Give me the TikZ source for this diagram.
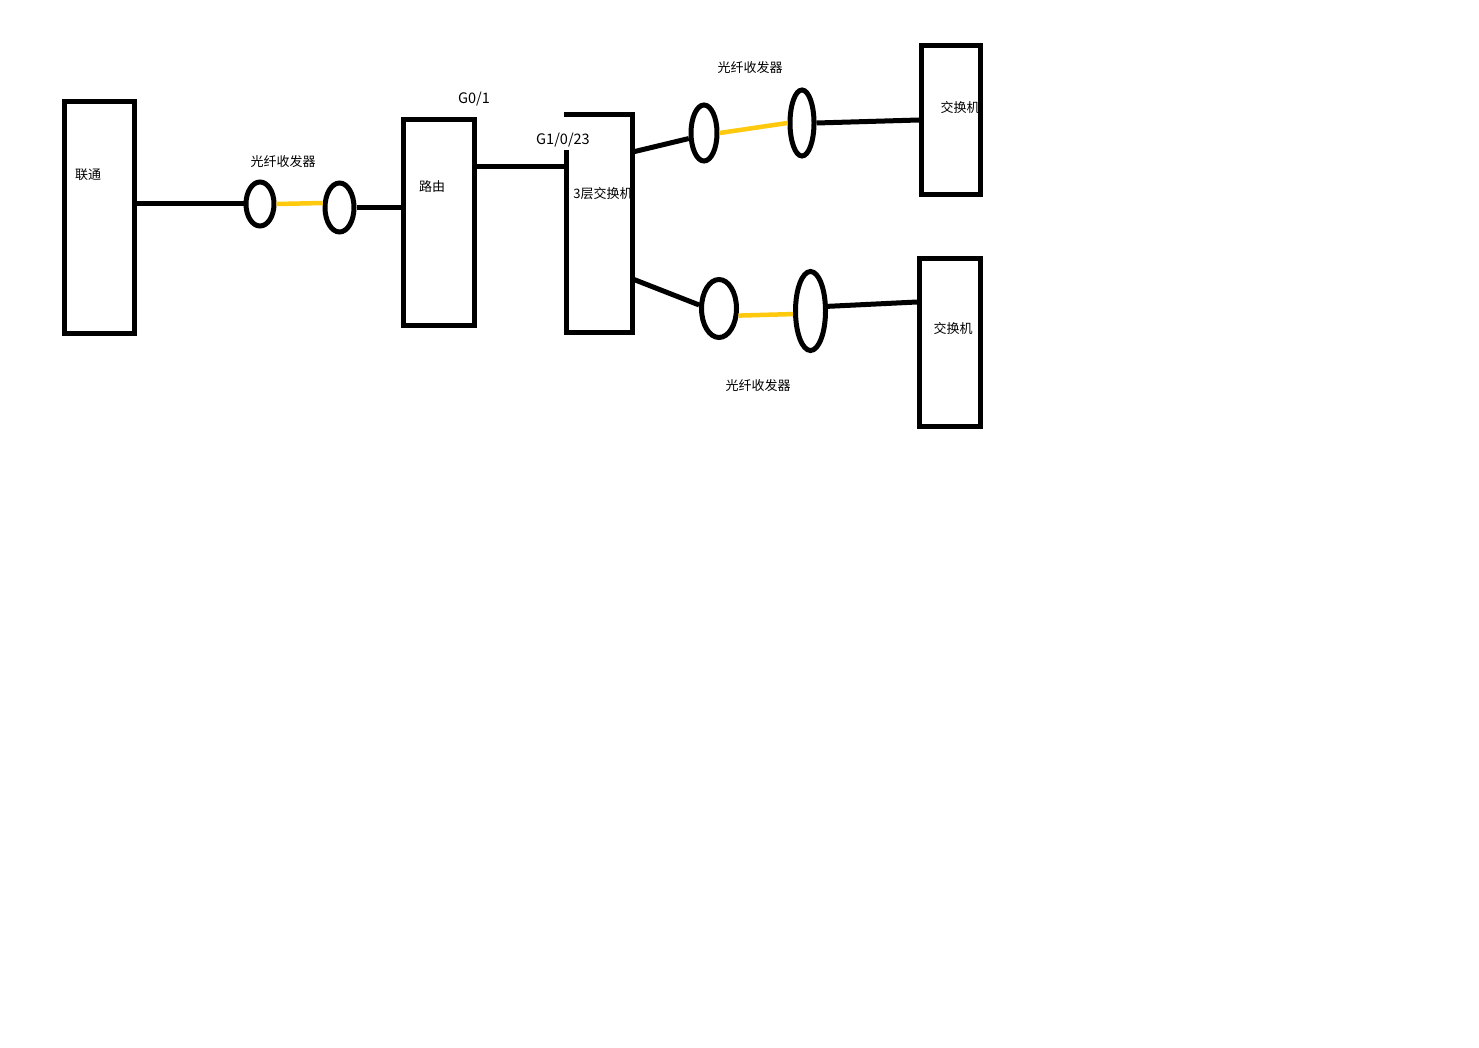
\documentclass[tikz,border=0pt]{standalone}
\usepackage{fontspec}
\setmainfont{Noto Sans CJK SC}
\usetikzlibrary{shapes.geometric}
\definecolor{fiber}{HTML}{FFC90E}
\tikzset{
  box/.style={rectangle, draw, line width=5pt, inner sep=0pt},
  xcvr/.style={ellipse, draw, line width=5pt, inner sep=0pt},
  wire/.style={line width=5pt},
  fib/.style={line width=4.5pt, draw=fiber},
  lbl/.style={inner sep=0pt, font=\fontsize{13}{15}\selectfont},
  port/.style={inner sep=0pt, font=\fontsize{14.5}{16}\selectfont}
}
\begin{document}
\begin{tikzpicture}[x=1pt,y=-1pt]
\useasboundingbox[fill=white] (0,0) rectangle (1479,1048);
% devices
\node[box, minimum width=70pt, minimum height=231pt] (lt) at (99.5,217.5) {};
\node[box, minimum width=71pt, minimum height=205pt] (rt) at (438.5,222.5) {};
\node[rectangle, inner sep=0pt, minimum width=66pt, minimum height=218pt] (l3) at (599.5,223.5) {};
\node[box, minimum width=59pt, minimum height=149pt] (sw1) at (951,120) {};
\node[box, minimum width=61pt, minimum height=168pt] (sw2) at (950,342.5) {};
% transceivers
\node[xcvr, minimum width=28pt, minimum height=44pt] (e1) at (260,204) {};
\node[xcvr, minimum width=29pt, minimum height=49pt] (e2) at (339.5,207.5) {};
\node[xcvr, minimum width=26pt, minimum height=56pt] (e3) at (704,133) {};
\node[xcvr, minimum width=24pt, minimum height=66pt] (e4) at (802,123) {};
\node[xcvr, minimum width=35pt, minimum height=58pt] (e5) at (719,308.5) {};
\node[xcvr, minimum width=30pt, minimum height=79pt] (e6) at (810.5,311) {};
% helper coordinates
\coordinate (gap) at (566,150);
\coordinate (rl) at (475,167);
\coordinate (up) at (633,152);
\coordinate (dn) at (633,279);
\coordinate (s2in) at (919,302);
% L3 switch outline with gap on the left edge
\draw[wire] ([xshift=-2.5pt]l3.north west) -- (l3.north east) -- (l3.south east) -- (l3.south west) -- (l3.west |- gap);
% wires
\draw[wire] (lt.east |- e1.west) -- (e1.west);
\draw[wire] (e2.east) -- (rt.west |- e2.east);
\draw[wire] (rt.east |- rl) -- (l3.west |- rl);
\draw[wire] (l3.east |- up) -- (e3.200);
\draw[wire] (e4.east) -- (sw1.west);
\draw[wire] (l3.east |- dn) -- (e5.170);
\draw[wire] (e6.15) -- (sw2.west |- s2in);
% fibers
\draw[fib] (e1.east) -- (e2.165);
\draw[fib] (e3.east) -- (e4.west);
\draw[fib] (e5.-20) -- (e6.190);
% labels
\node[lbl] (tlt) at (88,175) {联通};
\node[lbl] (tf1) at (283,162) {光纤收发器};
\node[lbl] (trt) at (432,187) {路由};
\node[port] (tg01) at (474,99) {G0/1};
\node[port] (tg1) at (563,140) {G1/0/23};
\node[lbl] (tl3) at (603,194) {3层交换机};
\node[lbl] (tf2) at (750,68) {光纤收发器};
\node[lbl] (tsw1) at (960,108) {交换机};
\node[lbl] (tsw2) at (953,329) {交换机};
\node[lbl] (tf3) at (758,386) {光纤收发器};
\end{tikzpicture}
\end{document}
